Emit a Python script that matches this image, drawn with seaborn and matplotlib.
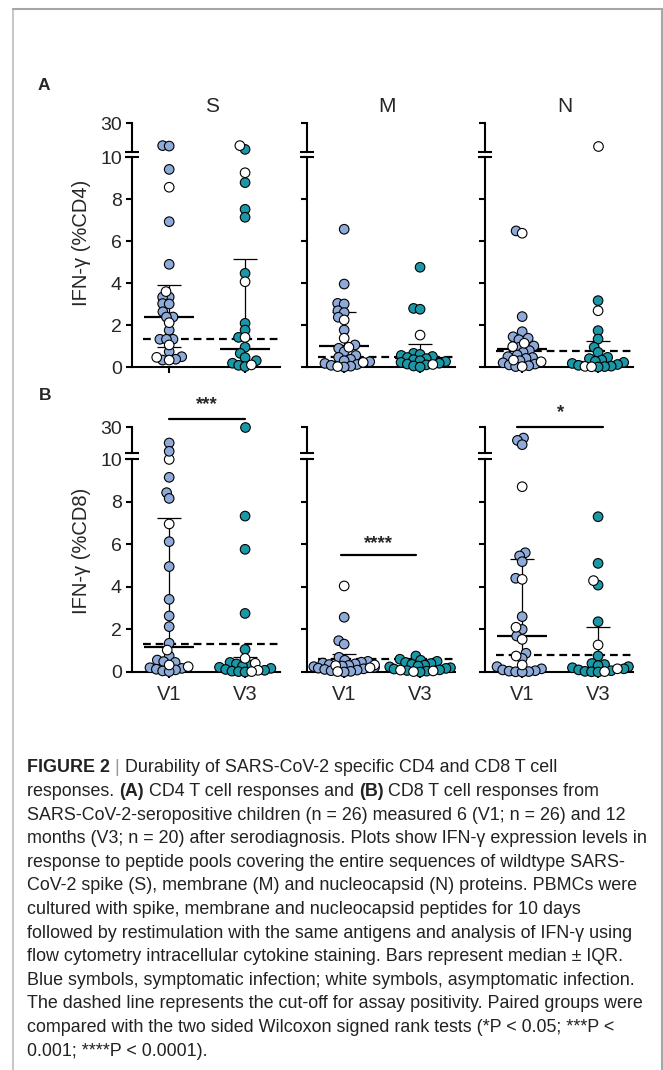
import numpy as np
import pandas as pd
import matplotlib
matplotlib.use('Agg')
import matplotlib.pyplot as plt
import seaborn as sns
from matplotlib.lines import Line2D
from matplotlib import font_manager

# IFN-g (% of CD4 / CD8 T cells)
# sym = symptomatic infection (coloured symbols), asym = asymptomatic (white)
cd4_s_v1_sym = [14.4, 14.1, 9.41, 6.92, 4.89, 3.33, 3.33, 3.02, 3.0, 2.63, 2.38, 2.38,
                1.75, 1.32, 1.32, 1.32, 0.73, 0.49, 0.37, 0.33]
cd4_s_v1_asym = [8.56, 3.59, 2.11, 1.05, 0.46, 0.33]
cd4_s_v3_sym = [11.8, 8.78, 7.51, 7.13, 4.46, 2.08, 1.76, 1.41, 0.94, 0.65, 0.45,
                0.3, 0.18, 0.08, 0.02]
cd4_s_v3_asym = [14.4, 9.25, 4.06, 1.41, 0.1]

cd4_m_v1_sym = [6.56, 3.95, 3.03, 3.0, 2.68, 2.59, 2.37, 1.76, 1.05, 0.89, 0.73, 0.55,
                0.46, 0.37, 0.3, 0.25, 0.17, 0.12, 0.08, 0.04, 0.0]
cd4_m_v1_asym = [2.24, 1.37, 0.94, 0.22, 0.02]
cd4_m_v3_sym = [4.75, 2.79, 2.75, 0.65, 0.6, 0.55, 0.5, 0.45, 0.4, 0.35, 0.3, 0.26,
                0.22, 0.18, 0.14, 0.1, 0.05, 0.0]
cd4_m_v3_asym = [1.52, 0.12]

cd4_n_v1_sym = [6.48, 2.40, 1.68, 1.44, 1.37, 1.3, 1.0, 0.94, 0.78, 0.7, 0.57, 0.49,
                0.45, 0.41, 0.3, 0.2, 0.14, 0.1, 0.06, 0.02]
cd4_n_v1_asym = [6.37, 1.13, 0.97, 0.33, 0.25, 0.02]
cd4_n_v3_sym = [3.16, 1.73, 1.33, 0.94, 0.70, 0.46, 0.4, 0.33, 0.27, 0.22, 0.17, 0.12,
                0.08, 0.04, 0.02, 0.0]
cd4_n_v3_asym = [14.4, 2.68, 0.03, 0.01]

cd8_s_v1_sym = [17.7, 11.3, 9.14, 8.42, 8.15, 6.12, 4.95, 3.41, 2.63, 2.13, 1.35, 0.75,
                0.56, 0.49, 0.45, 0.2, 0.17, 0.13, 0.1, 0.05, 0.02]
cd8_s_v1_asym = [9.98, 6.95, 1.03, 0.33, 0.25]
cd8_s_v3_sym = [30.0, 7.32, 5.76, 2.75, 1.06, 0.45, 0.38, 0.32, 0.27, 0.22, 0.17, 0.12,
                0.08, 0.04, 0.02, 0.0]
cd8_s_v3_asym = [0.64, 0.41, 0.08, 0.02]

cd8_m_v1_sym = [2.57, 1.47, 1.31, 0.69, 0.55, 0.5, 0.46, 0.42, 0.38, 0.35, 0.31, 0.28,
                0.25, 0.22, 0.18, 0.15, 0.12, 0.09, 0.06, 0.03, 0.0]
cd8_m_v1_asym = [4.04, 0.33, 0.3, 0.2, 0.02]
cd8_m_v3_sym = [0.75, 0.6, 0.55, 0.5, 0.45, 0.4, 0.36, 0.32, 0.28, 0.24, 0.2, 0.17,
                0.14, 0.1, 0.07, 0.04, 0.0]
cd8_m_v3_asym = [0.09, 0.05, 0.02]

cd8_n_v1_sym = [21.5, 19.7, 16.4, 5.6, 5.45, 5.18, 4.4, 2.6, 2.0, 1.69, 0.88, 0.64,
                0.25, 0.15, 0.1, 0.06, 0.04, 0.02, 0.01, 0.0]
cd8_n_v1_asym = [8.70, 4.35, 2.10, 1.53, 0.75, 0.33]
cd8_n_v3_sym = [7.29, 5.10, 4.08, 2.36, 0.75, 0.4, 0.35, 0.3, 0.25, 0.2, 0.15, 0.1,
                0.06, 0.03, 0.01, 0.0]
cd8_n_v3_asym = [4.29, 1.27, 0.15, 0.02]

visits = ['V1', 'V3']
antigens = ['S', 'M', 'N']

# median / IQR bars, [antigen][visit]
cd4_median = [[2.40, 0.84], [1.00, 0.45], [0.85, 0.25]]
cd4_q1 = [[0.97, 0.10], [0.30, 0.15], [0.25, 0.05]]
cd4_q3 = [[3.90, 5.13], [2.63, 1.08], [1.25, 1.25]]
cd8_median = [[1.19, 0.20], [0.33, 0.20], [1.69, 0.20]]
cd8_q1 = [[0.20, 0.05], [0.12, 0.05], [0.05, 0.02]]
cd8_q3 = [[7.25, 0.72], [0.85, 0.50], [5.30, 2.10]]

# assay positivity cut-off (dashed line)
cd4_cutoff = [1.32, 0.46, 0.78]
cd8_cutoff = [1.31, 0.59, 0.80]

caption = [
    [('FIGURE 2', 'bold', '#222222'), (' | ', 'normal', '#999999'),
     ('Durability of SARS-CoV-2 specific CD4 and CD8 T cell', 'normal', '#222222')],
    [('responses. ', 'normal', '#222222'), ('(A)', 'bold', '#222222'),
     (' CD4 T cell responses and ', 'normal', '#222222'), ('(B)', 'bold', '#222222'),
     (' CD8 T cell responses from', 'normal', '#222222')],
    'SARS-CoV-2-seropositive children (n = 26) measured 6 (V1; n = 26) and 12',
    'months (V3; n = 20) after serodiagnosis. Plots show IFN-\u03b3 expression levels in',
    'response to peptide pools covering the entire sequences of wildtype SARS-',
    'CoV-2 spike (S), membrane (M) and nucleocapsid (N) proteins. PBMCs were',
    'cultured with spike, membrane and nucleocapsid peptides for 10 days',
    'followed by restimulation with the same antigens and analysis of IFN-\u03b3 using',
    'flow cytometry intracellular cytokine staining. Bars represent median \u00b1 IQR.',
    'Blue symbols, symptomatic infection; white symbols, asymptomatic infection.',
    'The dashed line represents the cut-off for assay positivity. Paired groups were',
    'compared with the two sided Wilcoxon signed rank tests (*P < 0.05; ***P <',
    '0.001; ****P < 0.0001).',
]

data = {
    'CD4': [[(cd4_s_v1_sym, cd4_s_v1_asym), (cd4_s_v3_sym, cd4_s_v3_asym)],
            [(cd4_m_v1_sym, cd4_m_v1_asym), (cd4_m_v3_sym, cd4_m_v3_asym)],
            [(cd4_n_v1_sym, cd4_n_v1_asym), (cd4_n_v3_sym, cd4_n_v3_asym)]],
    'CD8': [[(cd8_s_v1_sym, cd8_s_v1_asym), (cd8_s_v3_sym, cd8_s_v3_asym)],
            [(cd8_m_v1_sym, cd8_m_v1_asym), (cd8_m_v3_sym, cd8_m_v3_asym)],
            [(cd8_n_v1_sym, cd8_n_v1_asym), (cd8_n_v3_sym, cd8_n_v3_asym)]],
}
bars = {'CD4': (cd4_median, cd4_q1, cd4_q3, cd4_cutoff),
        'CD8': (cd8_median, cd8_q1, cd8_q3, cd8_cutoff)}

pal = {'V1 sym': '#8eaad9', 'V3 sym': '#1b98a8', 'asym': 'white'}
DOT = 6.9         # marker size drawn (pt)
DOT_LAYOUT = 3.7  # marker size used to lay out the swarm (lets dots overlap a bit)


def pick_font(names):
    for n in names:
        try:
            font_manager.findfont(n, fallback_to_default=False)
            return n
        except ValueError:
            pass
    return 'DejaVu Sans'


sns.set_style('ticks')
main_font = pick_font(['Liberation Sans', 'Arial'])
narrow_font = pick_font(['Liberation Sans Narrow', 'Liberation Sans'])
plt.rcParams['font.family'] = [main_font, 'DejaVu Sans']

W, H = 663, 1070
fig = plt.figure(figsize=(W / 100, H / 100), dpi=100)


def rect(left, top, width, height):
    return [left / W, 1 - (top + height) / H, width / W, height / H]


def make_df(panel):
    rows = []
    for vi, (sym, asym) in enumerate(panel):
        for v in sym:
            rows.append((vi, v, visits[vi] + ' sym'))
        for v in asym:
            rows.append((vi, v, 'asym'))
    return pd.DataFrame(rows, columns=['visit', 'value', 'group'])


spine_x = [132, 307, 485]
rows_px = {'CD4': dict(hi_top=123, hi_h=29, lo_top=157, lo_h=210, lab_y=0.59),
           'CD8': dict(hi_top=427, hi_h=26, lo_top=459, lo_h=213, lab_y=0.57)}
axes = {}
swarms = []

for cell in ['CD4', 'CD8']:
    rp = rows_px[cell]
    med, q1, q3, cut = bars[cell]
    for j in range(3):
        ax_lo = fig.add_axes(rect(spine_x[j], rp['lo_top'], 148, rp['lo_h']))
        ax_hi = fig.add_axes(rect(spine_x[j], rp['hi_top'], 148, rp['hi_h']))
        axes[(cell, j)] = (ax_lo, ax_hi)
        df = make_df(data[cell][j])
        for ax, part in ((ax_lo, df[df['value'] <= 10]), (ax_hi, df[df['value'] > 10])):
            if len(part):
                n0 = len(ax.collections)
                sns.swarmplot(data=part, x='visit', y='value', hue='group',
                              native_scale=True, palette=pal, size=DOT_LAYOUT,
                              edgecolor='black', linewidth=0.8, legend=False, ax=ax,
                              clip_on=False, zorder=4, warn_thresh=1)
                swarms.extend(ax.collections[n0:])
        # median +/- IQR
        for i in range(2):
            ax_lo.hlines(med[j][i], i - 0.33, i + 0.33, color='black', lw=1.6, zorder=3)
            ax_lo.vlines(i, q1[j][i], q3[j][i], color='black', lw=0.9, zorder=3)
            ax_lo.hlines([q1[j][i], q3[j][i]], i - 0.16, i + 0.16, color='black',
                         lw=0.9, zorder=3)
        ax_lo.hlines(cut[j], -0.35, 1.44, color='black', lw=1.6,
                     linestyles=(0, (3.5, 2.2)), zorder=3)

        for ax in (ax_lo, ax_hi):
            ax.set_xlim(-0.49, 1.46)
            ax.set_xlabel('')
            ax.set_ylabel('')
            ax.set_facecolor('none')
            for s in ax.spines.values():
                s.set_linewidth(1.5)
                s.set_color('black')
            ax.spines['top'].set_visible(False)
            ax.spines['right'].set_visible(False)
            ax.tick_params(direction='out', length=4.3, width=1.5, labelsize=14,
                           pad=3, color='black')
        ax_lo.set_ylim(0, 10)
        ax_lo.set_yticks([0, 2, 4, 6, 8, 10])
        ax_hi.set_ylim(10, 30)
        ax_hi.set_yticks([30])
        ax_hi.spines['bottom'].set_visible(False)
        ax_hi.set_xticks([])
        ax_lo.set_xticks([0, 1])
        if cell == 'CD8':
            ax_lo.set_xticklabels(visits, fontsize=14.5, family=narrow_font)
            ax_lo.tick_params(axis='x', pad=5)
        else:
            ax_lo.set_xticklabels(['', ''])
        if j > 0:
            ax_lo.set_yticklabels([])
            ax_hi.set_yticklabels([])
        else:
            ax_lo.set_ylabel('IFN-\u03b3 (%' + cell + ')', fontsize=14.5)
            ax_lo.yaxis.set_label_coords(-0.28, rp['lab_y'])
        # axis break marks
        for ax, yy in ((ax_lo, 1), (ax_hi, 0)):
            ax.plot([-0.045, 0.045], [yy, yy], transform=ax.transAxes, color='black',
                    lw=1.5, clip_on=False, solid_capstyle='butt')

# panel titles and letters
for j, name in enumerate(antigens):
    fig.text((spine_x[j] + 80) / W, 1 - 107 / H, name, fontsize=15,
             ha='center', va='center', family=narrow_font)
fig.text(44 / W, 1 - 86 / H, 'A', fontsize=12.5, fontweight='bold', ha='center',
         va='center')
fig.text(45 / W, 1 - 396 / H, 'B', fontsize=12.5, fontweight='bold', ha='center',
         va='center')

# significance brackets (CD8 row)
ax = axes[('CD8', 0)][1]
ax.plot([0, 1], [36.2, 36.2], color='black', lw=1.6, clip_on=False)
ax.text(0.5, 47.0, '***', fontsize=13.5, fontweight='bold', ha='center', va='center',
        clip_on=False)
ax = axes[('CD8', 1)][0]
ax.plot([-0.04, 0.95], [5.5, 5.5], color='black', lw=1.6, clip_on=False)
ax.text(0.45, 6.05, '****', fontsize=13.5, fontweight='bold', ha='center', va='center')
ax = axes[('CD8', 2)][1]
ax.plot([-0.07, 1.07], [30, 30], color='black', lw=1.6, clip_on=False)
ax.text(0.5, 41.0, '*', fontsize=13.5, fontweight='bold', ha='center', va='center',
        clip_on=False)

# lay the swarms out with the small size, then freeze them and enlarge the dots
fig.canvas.draw()
for c in swarms:
    if 'draw' in c.__dict__:
        del c.draw
    c.set_sizes([DOT ** 2])

# caption, font size chosen so the longest line spans the caption width
renderer = fig.canvas.get_renderer()
probe = fig.text(0, 0, caption[3], fontsize=12, family=[narrow_font, 'DejaVu Sans'])
cap_fs = 12 * 618 / probe.get_window_extent(renderer).width
probe.remove()
for k, line in enumerate(caption):
    y = 1 - (768 + k * 23.6) / H
    parts = line if isinstance(line, list) else [(line, 'normal', '#222222')]
    x = 27
    for txt, weight, col in parts:
        t = fig.text(x / W, y, txt, fontsize=cap_fs, fontweight=weight, color=col,
                     ha='left', va='center', family=[narrow_font, 'DejaVu Sans'])
        x += t.get_window_extent(renderer).width

# frame around the figure
fig.add_artist(Line2D([13 / W, 13 / W], [0, 1 - 9 / H], color='#c8c8c8', lw=1.5))
fig.add_artist(Line2D([13 / W, 662 / W], [1 - 9 / H, 1 - 9 / H], color='#a6a6a6', lw=1.5))
fig.add_artist(Line2D([662 / W, 662 / W], [0, 1 - 9 / H], color='#a6a6a6', lw=1.5))

fig.savefig('out.png', dpi=100)
